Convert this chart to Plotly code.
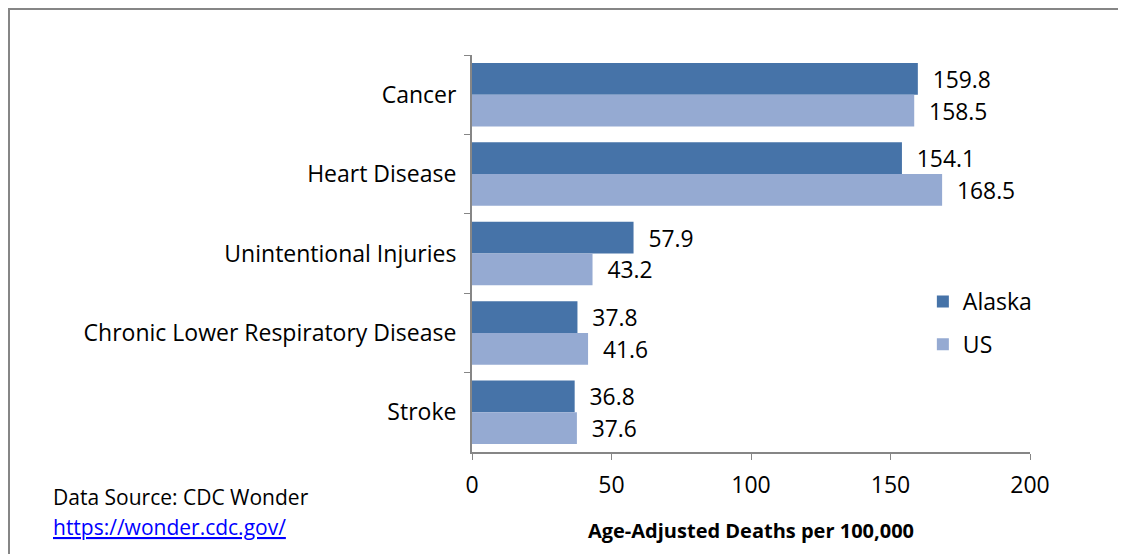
import plotly.graph_objects as go

# Leading causes of death, age-adjusted rates per 100,000
causes = ["Cancer", "Heart Disease", "Unintentional Injuries",
          "Chronic Lower Respiratory Disease", "Stroke"]
alaska = [159.8, 154.1, 57.9, 37.8, 36.8]
us = [158.5, 168.5, 43.2, 41.6, 37.6]

x_ticks = [0, 50, 100, 150, 200]

FONT = "'Open Sans', sans-serif"
AXIS_GRAY = "#868686"
TXT = 23

# plot area in pixels (page has an 8px body offset)
L, T, W, H = 464, 47, 558, 397

fig = go.Figure()

fig.add_trace(go.Bar(
    y=causes,
    x=alaska,
    orientation="h",
    name="Alaska",
    legendgroup="ak",
    marker=dict(color="#4673A8", line=dict(width=0)),
    texttemplate="\u00a0\u00a0%{x:.1f}",
    textposition="outside",
    textfont=dict(size=TXT, color="#000000", family=FONT),
    cliponaxis=False,
))

fig.add_trace(go.Bar(
    y=causes,
    x=us,
    orientation="h",
    name="US",
    legendgroup="us",
    marker=dict(color="#95AAD2", line=dict(width=0)),
    texttemplate="\u00a0\u00a0%{x:.1f}",
    textposition="outside",
    textfont=dict(size=TXT, color="#000000", family=FONT),
    cliponaxis=False,
))

# outer frame around the chart area (runs past the right/bottom edge)
fig.add_shape(
    type="rect", xref="paper", yref="paper",
    x0=(1 - L) / W, x1=1.3, y0=-0.5, y1=1 + (T - 1) / H,
    line=dict(color=AXIS_GRAY, width=2), fillcolor="rgba(0,0,0,0)",
    layer="below",
)

fig.add_annotation(
    text="Data Source: CDC Wonder",
    xref="paper", yref="paper", x=-421 / W, y=-45 / H,
    xanchor="left", yanchor="middle", showarrow=False,
    font=dict(size=21, color="#000000", family=FONT),
)
fig.add_annotation(
    text="<a href='https://wonder.cdc.gov/'><span style='color:#0000FF'>"
         "<u>https://wonder.cdc.gov/</u></span></a>",
    xref="paper", yref="paper", x=-421 / W, y=-75 / H,
    xanchor="left", yanchor="middle", showarrow=False,
    font=dict(size=21, color="#0000FF", family=FONT),
)

fig.update_layout(
    width=1126,
    height=554,
    margin=dict(l=L, r=1126 - L - W, t=T, b=554 - T - H),
    paper_bgcolor="white",
    plot_bgcolor="white",
    barmode="group",
    bargap=0.2,
    bargroupgap=0,
    font=dict(family=FONT, size=TXT, color="#000000"),
    legend=dict(
        x=0.808, y=0.325, xanchor="left", yanchor="middle",
        font=dict(size=TXT, family=FONT),
        tracegroupgap=10,
        bgcolor="rgba(0,0,0,0)",
    ),
    xaxis=dict(
        range=[0, 200],
        tickvals=x_ticks,
        ticks="outside",
        ticklen=6,
        tickcolor=AXIS_GRAY,
        showline=True,
        linecolor=AXIS_GRAY,
        linewidth=2,
        showgrid=False,
        zeroline=False,
        tickfont=dict(size=TXT),
        ticklabelstandoff=5,
        automargin=False,
        title=dict(text="<b>Age-Adjusted Deaths per 100,000</b>",
                   font=dict(size=20), standoff=25),
    ),
    yaxis=dict(
        autorange="reversed",
        ticks="outside",
        tickson="boundaries",
        ticklen=6,
        tickcolor=AXIS_GRAY,
        showline=True,
        linecolor=AXIS_GRAY,
        linewidth=2,
        showgrid=False,
        zeroline=False,
        tickfont=dict(size=TXT),
        ticklabelstandoff=9,
        automargin=False,
    ),
)

fig.write_html("out.html")
